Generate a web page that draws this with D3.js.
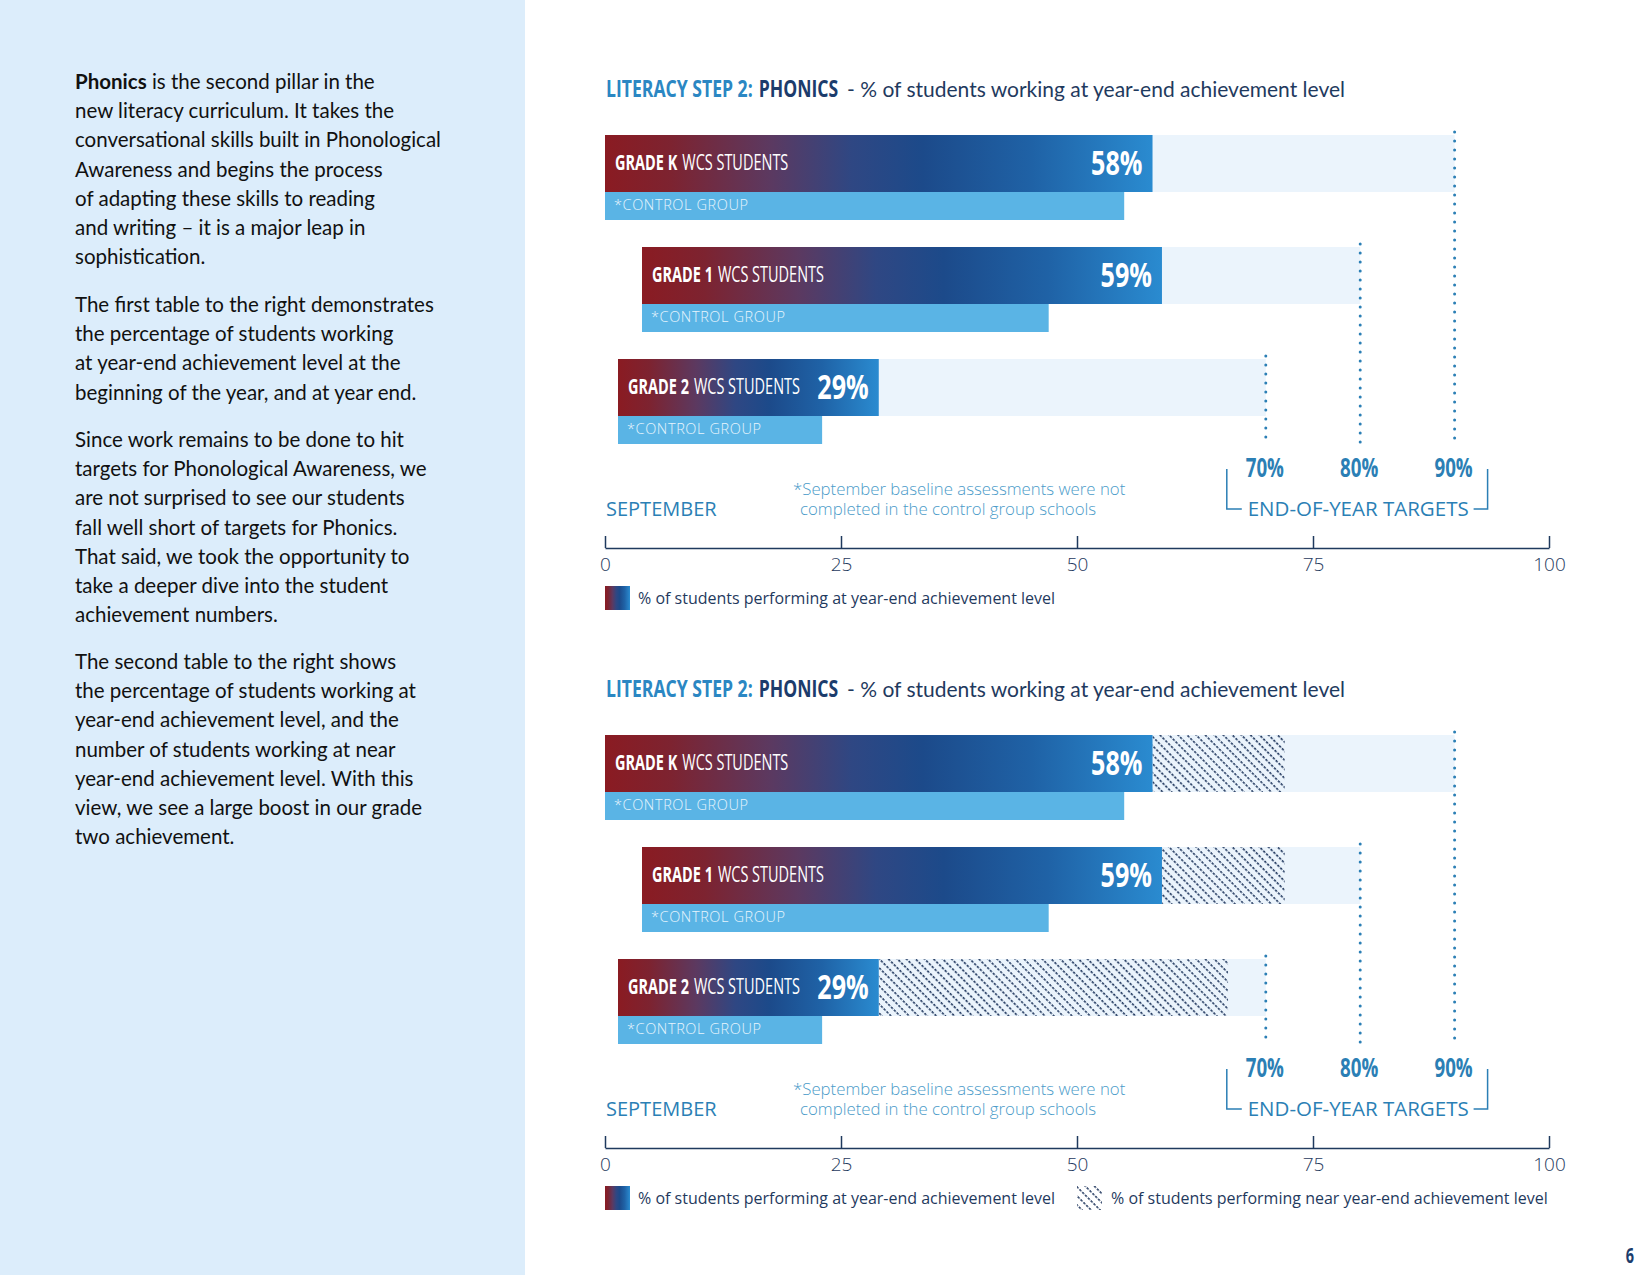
<!DOCTYPE html>
<html>
<head>
<meta charset="utf-8">
<script src="https://cdn.jsdelivr.net/npm/d3@7"></script>
<style>
  body { margin: 0; background: #fff; }
  svg { display: block; }
</style>
</head>
<body>
<div id="page"></div>
<script>
// ---- data ----
var grades = ["K", "1", "2"];
var wcsPct = [58, 59, 29];          // % at year-end level (labelled)
var controlPct = [55, 47, 23];      // control group bars (unlabelled, estimated)
var nearPct = [72, 72, 66];         // at + near year-end level (hatched end)
var targetPct = [90, 80, 70];       // end-of-year target per grade
var targetLabels = [70, 80, 90];
var tickValues = [0, 25, 50, 75, 100];

var paragraphs = [
  ["<b>Phonics</b> is the second pillar in the", "new literacy curriculum. It takes the",
   "conversational skills built in Phonological", "Awareness and begins the process",
   "of adapting these skills to reading", "and writing \u2013 it is a major leap in", "sophistication."],
  ["The first table to the right demonstrates", "the percentage of students working",
   "at year-end achievement level at the", "beginning of the year, and at year end."],
  ["Since work remains to be done to hit", "targets for Phonological Awareness, we",
   "are not surprised to see our students", "fall well short of targets for Phonics.",
   "That said, we took the opportunity to", "take a deeper dive into the student", "achievement numbers."],
  ["The second table to the right shows", "the percentage of students working at",
   "year-end achievement level, and the", "number of students working at near",
   "year-end achievement level. With this", "view, we see a large boost in our grade", "two achievement."]
];
var paraStart = [89, 312, 447, 669];

// ---- layout ----
var svgWidth = 1650;
var svgHeight = 1275;
var humanist = "'Open Sans', 'Noto Sans', sans-serif";
var bodyFont = "Lato, 'Open Sans', sans-serif";
var squeeze = 0.69;   // no condensed face installed: squeeze Open Sans horizontally

var navy = "#1f3a5e";
var midBlue = "#2b7fb5";

var svg = d3.select("#page")
    .append("svg")
    .attr("width", svgWidth)
    .attr("height", svgHeight);

var defs = svg.append("defs");

// red -> purple -> navy -> blue gradient of the WCS bars
var grad = defs.append("linearGradient")
    .attr("id", "wcsGrad")
    .attr("x1", "0%").attr("x2", "100%").attr("y1", "0%").attr("y2", "0%");
[[0, "#8a1b22"], [0.12, "#7d2330"], [0.3, "#5c3960"], [0.45, "#2f4783"],
 [0.58, "#1c4a8a"], [0.78, "#1f62a6"], [1, "#2a8bd0"]].forEach(function(s) {
  grad.append("stop").attr("offset", s[0]).attr("stop-color", s[1]);
});

// diagonal dashed hatch
var hatch = defs.append("pattern")
    .attr("id", "hatch")
    .attr("patternUnits", "userSpaceOnUse")
    .attr("width", 6.4).attr("height", 4)
    .attr("patternTransform", "rotate(-45)");
hatch.append("line")
    .attr("x1", 1).attr("x2", 1).attr("y1", 0).attr("y2", 4)
    .attr("stroke", "#142c55")
    .attr("stroke-width", 1.5)
    .attr("stroke-dasharray", "2.6 1.4");

// condensed text: Open Sans squeezed by a horizontal scale
function narrowText(parent, x, y, str, size, opts) {
  opts = opts || {};
  var t = parent.append("text")
      .attr("transform", "translate(" + x + "," + y + ") scale(" + (opts.sx || squeeze) + ",1)")
      .attr("font-family", humanist)
      .attr("font-weight", opts.weight || "bold")
      .attr("font-size", size)
      .attr("fill", opts.fill || "#fff")
      .attr("text-anchor", opts.anchor || "start")
      .text(str);
  return t;
}

// left text panel
svg.append("rect")
    .attr("x", 0).attr("y", 0)
    .attr("width", 525).attr("height", svgHeight)
    .attr("fill", "#dcedfb");

paragraphs.forEach(function(lines, p) {
  lines.forEach(function(line, i) {
    var t = svg.append("text")
        .attr("x", 75)
        .attr("y", paraStart[p] + i * 29.2)
        .attr("font-family", bodyFont)
        .attr("font-size", 20.5)
        .attr("fill", "#111");
    if (line.indexOf("<b>") === 0) {
      var parts = line.replace("<b>", "").split("</b>");
      t.append("tspan").attr("font-weight", "bold").text(parts[0]);
      t.append("tspan").text(parts[1]);
    } else {
      t.text(line);
    }
  });
});

var x = d3.scaleLinear().domain([0, 100]).range([605, 1549]);

var rows = grades.map(function(g, i) {
  return {grade: g, wcs: wcsPct[i], control: controlPct[i], near: nearPct[i], target: targetPct[i]};
});

var rowTop = 135, rowStep = 112, barH = 57, ctrlH = 28;
var indent = [0, 37, 13];

function drawChart(offsetY, withNear) {
  var chartGroup = svg.append("g")
      .attr("transform", "translate(0," + offsetY + ")");

  // title
  var titleSx = 0.733;
  var t1 = narrowText(chartGroup, 606, 97, "LITERACY STEP 2:", 24, {fill: "#2b87c3", sx: titleSx});
  var w1 = t1.node().getComputedTextLength() * titleSx;
  narrowText(chartGroup, 606 + w1 + 6, 97, "PHONICS", 24, {fill: "#1c3c6c", sx: titleSx});

  chartGroup.append("text")
      .attr("x", 847).attr("y", 97)
      .attr("font-family", bodyFont)
      .attr("font-size", 21)
      .attr("fill", navy)
      .text("- % of students working at year-end achievement level");

  var rowG = chartGroup.selectAll(".row")
      .data(rows)
      .enter()
      .append("g")
      .attr("class", "row")
      .attr("transform", function(d, i) { return "translate(0," + (rowTop + i * rowStep) + ")"; });

  // pale target background
  rowG.append("rect")
      .attr("x", function(d, i) { return x(0) + indent[i]; })
      .attr("y", 0)
      .attr("width", function(d, i) { return x(d.target) - x(0) - indent[i]; })
      .attr("height", barH)
      .attr("fill", "#ebf4fc");

  if (withNear) {
    rowG.append("rect")
        .attr("x", function(d) { return x(d.wcs); })
        .attr("y", 0)
        .attr("width", function(d) { return x(d.near) - x(d.wcs); })
        .attr("height", barH)
        .attr("fill", "url(#hatch)");
  }

  rowG.append("rect")
      .attr("x", function(d, i) { return x(0) + indent[i]; })
      .attr("y", 0)
      .attr("width", function(d, i) { return x(d.wcs) - x(0) - indent[i]; })
      .attr("height", barH)
      .attr("fill", "url(#wcsGrad)");

  rowG.append("rect")
      .attr("x", function(d, i) { return x(0) + indent[i]; })
      .attr("y", barH)
      .attr("width", function(d, i) { return x(d.control) - x(0) - indent[i]; })
      .attr("height", ctrlH)
      .attr("fill", "#5ab4e5");

  // dotted target lines
  rowG.append("line")
      .attr("x1", function(d) { return x(d.target); })
      .attr("x2", function(d) { return x(d.target); })
      .attr("y1", -3)
      .attr("y2", function(d, i) { return 445 - rowTop - i * rowStep; })
      .attr("stroke", midBlue)
      .attr("stroke-width", 3)
      .attr("stroke-linecap", "round")
      .attr("stroke-dasharray", "0 9");

  // "GRADE K" (bold) + "WCS STUDENTS", value at the bar end
  rowG.each(function(d, i) {
    var g = d3.select(this);
    var bx = x(0) + indent[i] + 10;
    var bold = narrowText(g, bx, 35, "GRADE " + d.grade, 21);
    var w = bold.node().getComputedTextLength() * squeeze;
    narrowText(g, bx + w + 5, 35, "WCS STUDENTS", 21, {weight: "normal"});
    narrowText(g, x(d.wcs) - 10, 40, d.wcs + "%", 34, {anchor: "end", sx: 0.74});
  });

  rowG.append("text")
      .attr("x", function(d, i) { return x(0) + indent[i] + 9; })
      .attr("y", barH + 18)
      .attr("font-family", humanist)
      .attr("font-weight", 300)
      .attr("font-size", 14.5)
      .attr("letter-spacing", 0.6)
      .attr("fill", "#e8f5fd")
      .text("*CONTROL GROUP");

  // target labels and bracket
  targetLabels.forEach(function(v) {
    narrowText(chartGroup, x(v) - 1, 477, v + "%", 26, {fill: midBlue, anchor: "middle", sx: 0.72});
  });

  var bl = x(70) - 39, br = x(90) + 33;
  chartGroup.append("path")
      .attr("d", "M" + bl + ",469V509H" + (bl + 15) + "M" + (br - 14) + ",509H" + br + "V469")
      .attr("fill", "none")
      .attr("stroke", midBlue)
      .attr("stroke-width", 1.5);

  chartGroup.append("text")
      .attr("x", x(80) - 2).attr("y", 516)
      .attr("text-anchor", "middle")
      .attr("font-family", humanist)
      .attr("font-size", 20.5)
      .attr("fill", midBlue)
      .text("END-OF-YEAR TARGETS");

  chartGroup.append("text")
      .attr("x", 606).attr("y", 516)
      .attr("font-family", humanist)
      .attr("font-size", 20)
      .attr("fill", midBlue)
      .text("SEPTEMBER");

  var note = chartGroup.append("text")
      .attr("font-family", humanist)
      .attr("font-weight", 300)
      .attr("font-size", 16.8)
      .attr("fill", "#4a9bc9");
  note.append("tspan").attr("x", 793).attr("y", 495).text("*September baseline assessments were not");
  note.append("tspan").attr("x", 800).attr("y", 515).text("completed in the control group schools");

  // axis
  var bottomAxis = d3.axisBottom(x)
      .tickValues(tickValues)
      .tickSize(-12)
      .tickSizeOuter(0)
      .tickPadding(10);

  var xAxis = chartGroup.append("g")
      .attr("transform", "translate(0,548)")
      .call(bottomAxis);
  xAxis.select(".domain").attr("stroke", navy).attr("stroke-width", 1.5);
  xAxis.selectAll(".tick line").attr("stroke", navy).attr("stroke-width", 1.5);
  xAxis.selectAll(".tick text")
      .attr("font-family", humanist)
      .attr("font-weight", 300)
      .attr("font-size", 19)
      .attr("fill", navy);

  // legend
  chartGroup.append("rect")
      .attr("x", 605).attr("y", 586).attr("width", 25).attr("height", 24)
      .attr("fill", "url(#wcsGrad)");
  chartGroup.append("text")
      .attr("x", 638).attr("y", 604)
      .attr("font-family", humanist)
      .attr("font-size", 16)
      .attr("fill", navy)
      .text("% of students performing at year-end achievement level");

  if (withNear) {
    chartGroup.append("rect")
        .attr("x", 1077).attr("y", 586).attr("width", 25).attr("height", 24)
        .attr("fill", "url(#hatch)");
    chartGroup.append("text")
        .attr("x", 1111).attr("y", 604)
        .attr("font-family", humanist)
        .attr("font-size", 16)
        .attr("fill", navy)
        .text("% of students performing near year-end achievement level");
  }
}

drawChart(0, false);
drawChart(600, true);

// page number
narrowText(svg, 1630, 1263, "6", 21, {fill: "#1c3c6c", anchor: "middle"});
</script>
</body>
</html>
